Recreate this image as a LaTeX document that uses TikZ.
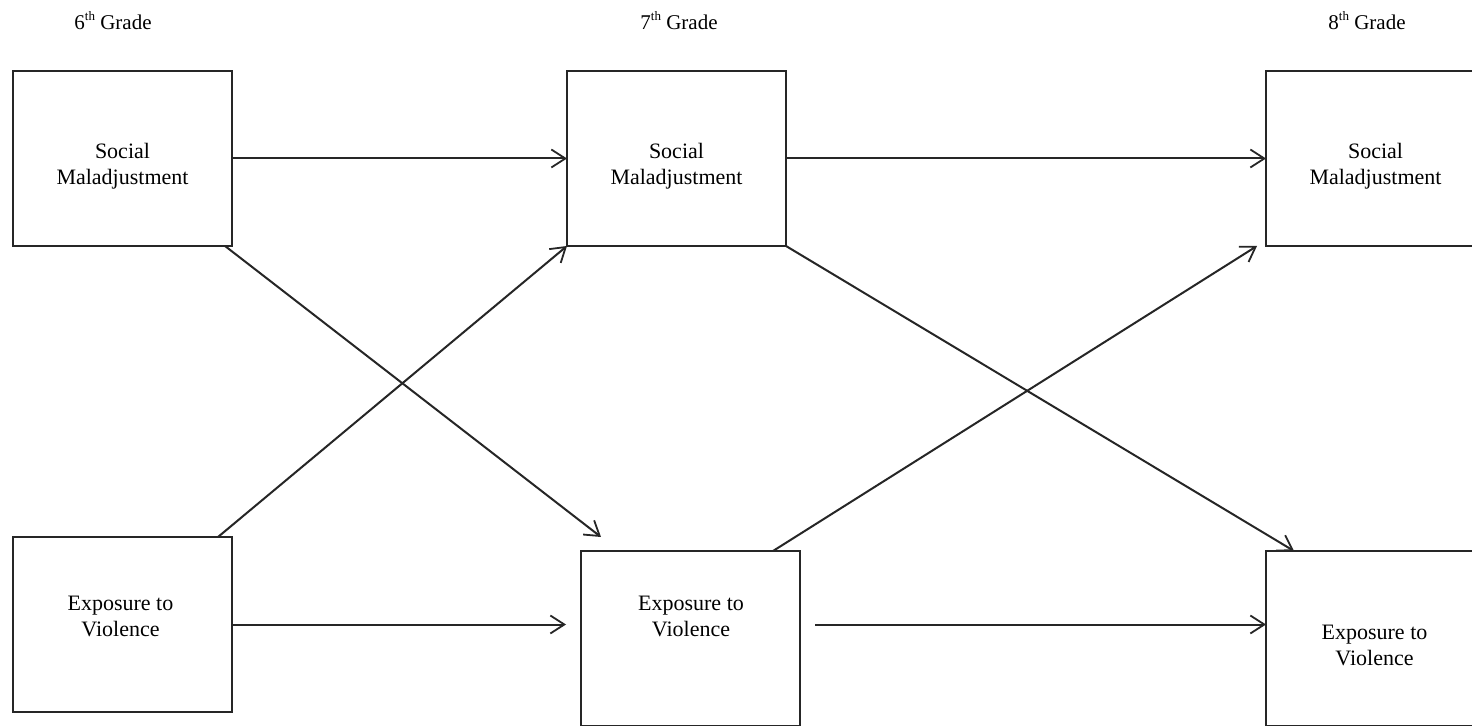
\documentclass[tikz,border=0pt]{standalone}
\usepackage{fontspec}
\setmainfont{Liberation Serif}
\usetikzlibrary{arrows.meta}
\newcommand{\gsup}[1]{\raisebox{0.45em}{\fontsize{6.5}{7}\selectfont #1}}
\begin{document}
\begin{tikzpicture}[x=0.5pt,y=-0.5pt,
  box/.style={draw=black!85, line width=1pt, minimum width=109.5pt, minimum height=87.5pt, inner sep=0pt, outer sep=0pt},
  lbl/.style={align=center, font=\fontsize{11}{13}\selectfont, inner sep=0pt},
  grade/.style={font=\fontsize{10.5}{12.6}\selectfont, inner sep=0pt},
  conn/.style={draw=black!85, line width=1pt, -{Straight Barb[length=7pt,width=9pt,line width=0.9pt]}}]
\useasboundingbox (0,0) rectangle (1472,726);
\clip (0,0) rectangle (1472,726);
% grade labels
\node[grade] (g6) at (113,20.5) {6\gsup{th} Grade};
\node[grade] (g7) at (679,20.5) {7\gsup{th} Grade};
\node[grade] (g8) at (1367,20.5) {8\gsup{th} Grade};
% boxes
\node[box] (SM6) at (122.5,158.5) {};
\node[box] (SM7) at (676.5,158.5) {};
\node[box] (SM8) at (1375.5,158.5) {};
\node[box] (EV6) at (122.5,624.5) {};
\node[box] (EV7) at (690.5,638.5) {};
\node[box] (EV8) at (1375.5,638.5) {};
% box texts
\node[lbl] (tSM6) at (122.5,166) {Social\\Maladjustment};
\node[lbl] (tSM7) at (676.5,166) {Social\\Maladjustment};
\node[lbl] (tSM8) at (1375.5,166) {Social\\Maladjustment};
\node[lbl] (tEV6) at (120.5,616.5) {Exposure to\\Violence};
\node[lbl] (tEV7) at (691,616.5) {Exposure to\\Violence};
\node[lbl] (tEV8) at (1374.5,645.5) {Exposure to\\Violence};
% connectors
\draw[conn] (SM6.east) -- (SM7.west);
\draw[conn] (SM7.east) -- (SM8.west);
\draw[conn, shorten >=7.5pt] (EV6.east) -- (EV7.west |- EV6.east);
\draw[conn, shorten <=7.5pt] (EV7.east |- EV6.east) -- (EV8.west |- EV6.east);
\draw[conn] ([xshift=-3.5pt]SM6.south east) -- ([xshift=10pt,yshift=7pt]EV7.north west);
\draw[conn] ([xshift=-7pt]EV6.north east) -- (SM7.south west);
\draw[conn] (SM7.south east) -- ([xshift=14pt]EV8.north west);
\draw[conn] ([xshift=-13.5pt]EV7.north east) -- ([xshift=-4.5pt]SM8.south west);
\end{tikzpicture}
\end{document}
